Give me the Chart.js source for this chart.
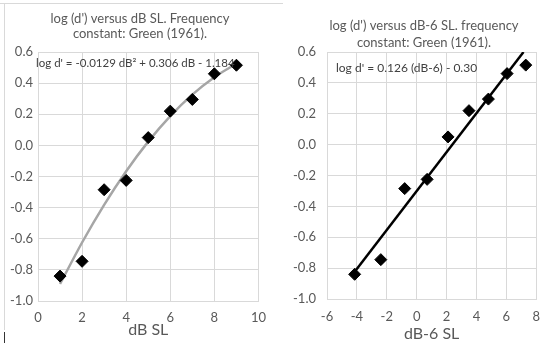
<!DOCTYPE html>
<html>
<head>
<meta charset="utf-8">
<script src="https://cdn.jsdelivr.net/npm/chart.js@4.4.1/dist/chart.umd.min.js"></script>
<style>
  body { margin: 0; background: #fff; }
  #wrap { position: relative; width: 550px; height: 347px; overflow: hidden; }
  #left { position: absolute; left: 0; top: 0; }
  #right { position: absolute; left: 286px; top: 0; }
  .frameTop { position: absolute; left: 0; top: 3px; width: 283px; height: 0; border-top: 1px solid #d9d9d9; }
  .frameLeft { position: absolute; left: 4px; top: 3px; width: 0; height: 327px; border-left: 1px solid #d9d9d9; }
  .mark { position: absolute; left: 4px; top: 332px; width: 0; height: 11px; border-left: 1px solid #333; }
</style>
</head>
<body>
<div id="wrap">
  <div class="frameTop"></div>
  <div class="frameLeft"></div>
  <div class="mark"></div>
  <canvas id="left" width="275" height="347"></canvas>
  <canvas id="right" width="264" height="347"></canvas>
</div>
<script>
// data
const dbSL = [1, 2, 3, 4, 5, 6, 7, 8, 9];
const dbMinus6 = [-4.15, -2.4, -0.8, 0.7, 2.1, 3.5, 4.8, 6.05, 7.3];
const logD = [-0.84, -0.745, -0.285, -0.225, 0.05, 0.22, 0.295, 0.46, 0.515];

// polynomial trendline on the left chart
const trendX = [1, 2, 3, 4, 5, 6, 7, 8, 9];
const trendY = [-0.891, -0.624, -0.382, -0.166, 0.024, 0.188, 0.326, 0.438, 0.525];

// straight fit on the right chart
const fitX = [-4.2, 7.15];
const fitY = [-0.83, 0.60];

const yTicks = { min: -1.0, max: 0.6, step: 0.2 };
const leftXTicks = { min: 0, max: 10, step: 2 };
const rightXTicks = { min: -6, max: 8, step: 2 };

const FONT = 'Lato, "Open Sans", sans-serif';
const GREY_TEXT = '#595959';
const GRID = '#d9d9d9';

function pairs(xs, ys) {
    return xs.map((x, i) => ({ x: x, y: ys[i] }));
}

// draws the equation text inside the plot
const equationLabel = {
    id: 'equationLabel',
    afterDatasetsDraw(chart, args, opts) {
        const ctx = chart.ctx;
        const area = chart.chartArea;
        ctx.save();
        ctx.font = opts.size + 'px ' + FONT;
        ctx.fillStyle = '#404040';
        ctx.textBaseline = 'middle';
        ctx.textAlign = 'left';
        ctx.fillText(opts.text, area.left + opts.dx, area.top + opts.dy);
        ctx.restore();
    }
};

// nudges the title block sideways (Excel centres it a bit off the canvas middle)
const titleShift = {
    id: 'titleShift',
    afterLayout(chart, args, opts) {
        if (chart.titleBlock) {
            chart.titleBlock.left += opts.dx;
            chart.titleBlock.right += opts.dx;
        }
    }
};

function makeChart(id, cfg) {
    const ctx = document.getElementById(id).getContext('2d');
    return new Chart(ctx, {
        type: 'scatter',
        data: {
            datasets: [
                {
                    data: pairs(cfg.xs, logD),
                    pointStyle: 'rectRot',
                    pointRadius: 6,
                    pointBackgroundColor: '#000',
                    pointBorderColor: '#000',
                    pointBorderWidth: 1,
                    showLine: false,
                    order: 1
                },
                {
                    data: pairs(cfg.lineX, cfg.lineY),
                    showLine: true,
                    borderColor: cfg.lineColor,
                    borderWidth: 2.5,
                    pointRadius: 0,
                    cubicInterpolationMode: 'monotone',
                    order: 2
                }
            ]
        },
        options: {
            responsive: false,
            animation: false,
            events: [],
            layout: { padding: { left: 0, right: cfg.padRight, top: 0, bottom: 0 } },
            scales: {
                x: {
                    type: 'linear',
                    min: cfg.xTicks.min,
                    max: cfg.xTicks.max,
                    afterFit: scale => { scale.height = cfg.xHeight; },
                    grid: { color: GRID, drawTicks: false },
                    border: { color: GRID },
                    ticks: {
                        stepSize: cfg.xTicks.step,
                        padding: cfg.xTickPad,
                        color: GREY_TEXT,
                        font: { family: FONT, size: 13 }
                    },
                    title: {
                        display: true,
                        text: cfg.xTitle,
                        color: GREY_TEXT,
                        font: { family: FONT, size: 16, lineHeight: 1.125 },
                        padding: { top: 0, bottom: cfg.xTitlePad }
                    }
                },
                y: {
                    min: yTicks.min,
                    max: yTicks.max,
                    afterFit: scale => { scale.width = cfg.yWidth; },
                    grid: { color: GRID, drawTicks: false },
                    border: { color: GRID },
                    ticks: {
                        stepSize: yTicks.step,
                        padding: cfg.yTickPad,
                        color: GREY_TEXT,
                        font: { family: FONT, size: 13 },
                        callback: v => Number(v).toFixed(1)
                    }
                }
            },
            plugins: {
                legend: { display: false },
                tooltip: { enabled: false },
                title: {
                    display: true,
                    text: cfg.title,
                    color: GREY_TEXT,
                    font: { family: FONT, size: 13, weight: 'normal', lineHeight: cfg.titleLine / 13 },
                    padding: { top: cfg.titleTop, bottom: cfg.titleBottom }
                },
                titleShift: { dx: cfg.titleDx },
                equationLabel: cfg.equation
            }
        },
        plugins: [equationLabel, titleShift]
    });
}

makeChart('left', {
    xs: dbSL,
    lineX: trendX,
    lineY: trendY,
    lineColor: '#a6a6a6',
    xTicks: leftXTicks,
    xTitle: 'dB SL',
    title: ["log (d') versus dB SL. Frequency", 'constant: Green (1961).'],
    titleTop: 11, titleLine: 15, titleBottom: 11, titleDx: 6,
    padRight: 7, yWidth: 38, yTickPad: 5,
    xHeight: 46, xTickPad: 9, xTitlePad: 8,
    equation: { text: "log d' = -0.0129 dB\u00b2 + 0.306 dB - 1.184", size: 11.5, dx: -2, dy: 11 }
});

makeChart('right', {
    xs: dbMinus6,
    lineX: fitX,
    lineY: fitY,
    lineColor: '#000',
    xTicks: rightXTicks,
    xTitle: 'dB-6 SL',
    title: ["log (d') versus dB-6 SL. frequency", 'constant: Green (1961).'],
    titleTop: 17, titleLine: 17.5, titleBottom: 0, titleDx: 10,
    padRight: 8, yWidth: 41, yTickPad: 11,
    xHeight: 48, xTickPad: 10, xTitlePad: 4,
    equation: { text: "log d' = 0.126 (dB-6) - 0.30", size: 12, dx: 9, dy: 16 }
});
</script>
</body>
</html>
